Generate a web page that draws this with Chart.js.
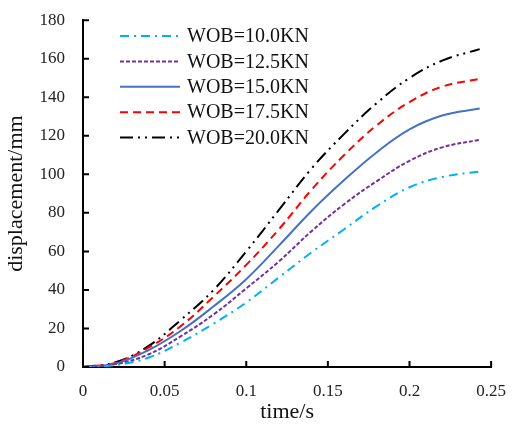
<!DOCTYPE html>
<html>
<head>
<meta charset="utf-8">
<script src="https://cdn.jsdelivr.net/npm/chart.js@4.4.1/dist/chart.umd.min.js"></script>
<style>
  html, body { margin: 0; padding: 0; background: #fff; }
  #wrap { width: 512px; height: 429px; position: relative; }
</style>
</head>
<body>
<div id="wrap"><canvas id="chart"></canvas></div>
<script>
// time (s) and displacement (mm)
const times = [0, 0.02, 0.04, 0.06, 0.08, 0.1, 0.12, 0.14, 0.16, 0.18, 0.2, 0.22, 0.243];
const wob10 = [0, 1.0, 4.8, 12.8, 22.5, 33.5, 46.5, 59.5, 71.5, 83.5, 93.3, 98.6, 101.5];
const wob125 = [0, 1.5, 6.5, 16, 27.3, 40.8, 54.8, 70.5, 84.5, 96.5, 107, 114, 117.9];
const wob15 = [0, 1.8, 8.7, 18.8, 31.5, 45.6, 63, 81, 97, 111.5, 123.3, 130.5, 134.2];
const wob175 = [0, 2.2, 10, 21.3, 36.5, 53, 71.5, 92, 110, 125.5, 137.5, 145.5, 149.6];
const wob20 = [0, 2.5, 10.8, 24.5, 40, 60, 81.5, 103, 121, 137, 150, 159, 165];
const labels = ['WOB=10.0KN', 'WOB=12.5KN', 'WOB=15.0KN', 'WOB=17.5KN', 'WOB=20.0KN'];
const xTicks = [0, 0.05, 0.1, 0.15, 0.2, 0.25];

const FONT = "'Liberation Serif', 'Times New Roman', serif";
const toPts = vals => times.map((t, i) => ({ x: t, y: vals[i] }));

const styles = [
  { color: '#00B0F0', dash: [9, 5, 2, 5] },
  { color: '#7030A0', dash: [4, 2] },
  { color: '#4472C4', dash: [] },
  { color: '#FF0000', dash: [8, 5] },
  { color: '#000000', dash: [13, 5, 2, 5, 2, 5] }
];

const series = [wob10, wob125, wob15, wob175, wob20];

// inward tick marks + legend inside the plot
const extras = {
  id: 'extras',
  afterDraw(chart) {
    const ctx = chart.ctx;
    const xs = chart.scales.x, ys = chart.scales.y;
    const a = chart.chartArea;
    ctx.save();
    ctx.strokeStyle = '#000';
    ctx.lineWidth = 2;
    ctx.beginPath();
    xTicks.forEach(v => {
      const px = xs.getPixelForValue(v);
      ctx.moveTo(px, a.bottom); ctx.lineTo(px, a.bottom - 6);
    });
    ys.ticks.forEach(t => {
      const py = ys.getPixelForValue(t.value);
      ctx.moveTo(a.left, py); ctx.lineTo(a.left + 6, py);
    });
    ctx.stroke();

    ctx.font = '20px ' + FONT;
    ctx.textBaseline = 'middle';
    chart.data.datasets.forEach((ds, i) => {
      const y = 36 + i * 25.4;
      ctx.strokeStyle = ds.borderColor;
      ctx.lineWidth = 2;
      ctx.setLineDash(ds.borderDash);
      ctx.beginPath();
      ctx.moveTo(120, y); ctx.lineTo(180, y);
      ctx.stroke();
      ctx.setLineDash([]);
      ctx.fillStyle = '#111';
      ctx.fillText(ds.label, 187, y + 1);
    });
    ctx.restore();
  }
};

new Chart(document.getElementById('chart'), {
  type: 'line',
  data: {
    datasets: series.map((s, i) => ({
      label: labels[i],
      data: toPts(s),
      borderColor: styles[i].color,
      borderDash: styles[i].dash,
      borderWidth: 2,
      pointRadius: 0,
      fill: false,
      tension: 0.4
    }))
  },
  options: {
    responsive: true,
    maintainAspectRatio: false,
    animation: false,
    layout: { padding: { top: 8, right: 17, left: 0, bottom: 0 } },
    plugins: { legend: { display: false }, tooltip: { enabled: false } },
    scales: {
      x: {
        type: 'linear', min: 0, max: 0.25,
        afterBuildTicks: s => { s.ticks = xTicks.map(v => ({ value: v })); },
        afterFit: s => { s.height = 62; },
        grid: { display: false },
        border: { color: '#000', width: 2 },
        ticks: { color: '#222', font: { family: FONT, size: 17 }, padding: 6, maxRotation: 0,
                  callback: v => String(v) },
        title: { display: true, text: 'time/s', color: '#111', font: { family: FONT, size: 22 }, padding: { top: 0, bottom: 4 } }
      },
      y: {
        min: 0, max: 180,
        afterFit: s => { s.width = 83; },
        grid: { display: false },
        border: { color: '#000', width: 2 },
        ticks: { stepSize: 20, color: '#222', font: { family: FONT, size: 17 }, padding: 10 },
        title: { display: true, text: 'displacement/mm', color: '#111', font: { family: FONT, size: 22 }, padding: { top: 3, bottom: 0 } }
      }
    }
  },
  plugins: [extras]
});
</script>
</body>
</html>
